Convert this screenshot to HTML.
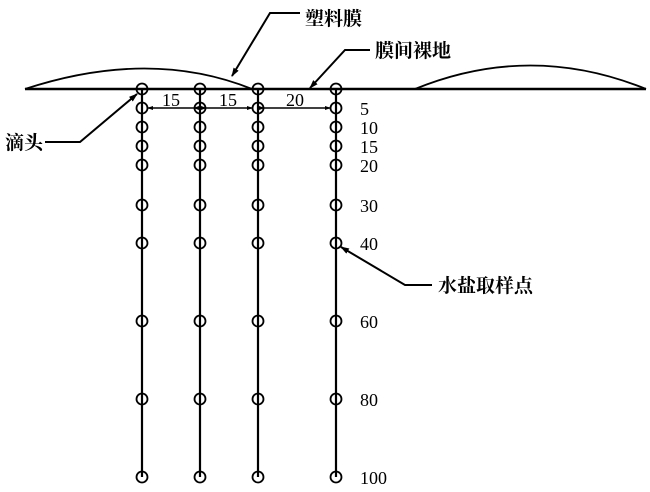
<!DOCTYPE html>
<html><head><style>
html,body{margin:0;padding:0;background:#fff;}
svg{display:block;}
text{font-family:"Liberation Serif","Noto Serif CJK SC",serif;fill:#000;}
.cj{font-family:"Liberation Serif","Noto Serif CJK SC",serif;font-weight:bold;}
</style></head><body>
<svg width="650" height="492" viewBox="0 0 650 492" xmlns="http://www.w3.org/2000/svg">
<defs><marker id="a" markerWidth="9" markerHeight="6" refX="8" refY="3" orient="auto" markerUnits="userSpaceOnUse"><path d="M0,0 L9,3 L0,6z" fill="#000"/></marker>
<marker id="s" markerWidth="6" markerHeight="4" refX="5" refY="2" orient="auto" markerUnits="userSpaceOnUse"><path d="M0,0 L6,2 L0,4z" fill="#000"/></marker></defs>
<g stroke="#000" fill="none" stroke-width="2">
<line x1="25" y1="89" x2="646" y2="89" stroke-width="2.4"/>
<path d="M25,89 Q150,48 252,89" stroke-width="1.8"/>
<path d="M415,89 Q530,42 646,89" stroke-width="1.8"/>
<line x1="142" y1="89" x2="142" y2="477" stroke-width="2.2"/>
<line x1="200" y1="89" x2="200" y2="477" stroke-width="2.2"/>
<line x1="258" y1="89" x2="258" y2="477" stroke-width="2.2"/>
<line x1="336" y1="89" x2="336" y2="477" stroke-width="2.2"/>
</g>
<g stroke="#000" stroke-width="1.6" marker-start="url(#s)" marker-end="url(#s)">
<line x1="194" y1="108" x2="148" y2="108" marker-start="url(#s)" marker-end="url(#s)"/>
<line x1="206" y1="108" x2="252" y2="108" marker-start="url(#s)" marker-end="url(#s)"/>
<line x1="264" y1="108" x2="330" y2="108" marker-start="url(#s)" marker-end="url(#s)"/>
</g>
<g stroke="#000" fill="none" stroke-width="1.8">
<g id="c">
<circle cx="142" cy="89" r="5.5"/><circle cx="142" cy="108" r="5.5"/><circle cx="142" cy="127" r="5.5"/><circle cx="142" cy="146" r="5.5"/><circle cx="142" cy="165" r="5.5"/><circle cx="142" cy="205" r="5.5"/><circle cx="142" cy="243" r="5.5"/><circle cx="142" cy="321" r="5.5"/><circle cx="142" cy="399" r="5.5"/><circle cx="142" cy="477" r="5.5"/>
</g>
<use href="#c" x="58"/><use href="#c" x="116"/><use href="#c" x="194"/>
</g>
<g stroke="#000" fill="none" stroke-width="2">
<polyline points="300,13 270,13 232,76" marker-end="url(#a)"/>
<polyline points="370,50 345,50 310,88" marker-end="url(#a)"/>
<polyline points="45,142 80,142 137,94" marker-end="url(#a)"/>
<polyline points="432,285 405,285 341,247" marker-end="url(#a)"/>
</g>
<g font-size="19">
<text x="305" y="25" class="cj">塑料膜</text>
<text x="375" y="57" class="cj">膜间裸地</text>
<text x="5" y="149" class="cj">滴头</text>
<text x="438" y="292" class="cj">水盐取样点</text>
</g>
<g font-size="18">
<text x="162" y="106">15</text><text x="219" y="106">15</text><text x="286" y="106">20</text>
<text x="360" y="115">5</text><text x="360" y="134">10</text><text x="360" y="153">15</text><text x="360" y="172">20</text>
<text x="360" y="212">30</text><text x="360" y="250">40</text><text x="360" y="328">60</text><text x="360" y="406">80</text><text x="360" y="484">100</text>
</g>
</svg>
</body></html>
